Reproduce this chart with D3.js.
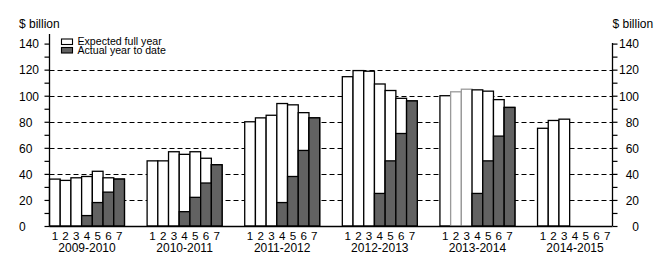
<!DOCTYPE html>
<meta charset="utf-8">
<style>

body {
  margin: 0;
  background: #fff;
}

svg text {
  font-family: "Liberation Sans", Arial, sans-serif;
  fill: #000;
}

.grid line {
  stroke: #000;
  stroke-width: 1;
  stroke-dasharray: 5,3;
}

</style>
<body>
<div id="container"></div>
<script src="https://cdnjs.cloudflare.com/ajax/libs/d3/7.8.5/d3.min.js"></script>
<script>

// financial years and month numbers
var years = ["2009-2010", "2010-2011", "2011-2012", "2012-2013", "2013-2014", "2014-2015"];
var months = [1, 2, 3, 4, 5, 6, 7];

// expected full year, $ billion (one row per year)
var expected = [
  [36, 35, 37, 38, 42, 37, 36],
  [50, 50, 57, 55, 57, 52, 47],
  [80, 83, 85, 94, 93, 87, 83],
  [114.6, 119.3, 118.8, 109, 104, 98, 96],
  [100, 103, 105, 104.5, 103.5, 97, 91],
  [75, 81, 82, null, null, null, null]
];

// actual year to date, $ billion
var actual = [
  [null, null, null, 8, 18, 26, 36],
  [null, null, null, 11, 22, 33, 47],
  [null, null, null, 18, 38, 58, 83],
  [null, null, null, 25, 50, 71, 96],
  [null, null, null, 25, 50, 69, 91],
  [null, null, null, null, null, null, null]
];

var yTicks = d3.range(0, 141, 10);
var gridTicks = [20, 40, 60, 80, 100, 120];

var width = 666, height = 276;
var plotLeft = 49.5, plotRight = 612.5, plotBottom = 226, plotTop = 43.6;

var svg = d3.select("#container")
    .append("svg")
        .attr("width", width)
        .attr("height", height);

var x = d3.scaleBand().domain(years).range([plotLeft, plotRight]).paddingInner(0.232).paddingOuter(0);
var xm = d3.scaleBand().domain(months).range([0, x.bandwidth()]).padding(0);
var y = d3.scaleLinear().domain([0, 140]).range([plotBottom, plotTop]);

function flat(table) {
  var out = [];
  years.forEach(function(yr, i) {
    months.forEach(function(m, j) {
      if (table[i][j] != null) out.push({year: yr, month: m, value: table[i][j]});
    });
  });
  return out;
}

// gridlines
svg.append("g")
    .attr("class", "grid")
  .selectAll("line")
  .data(gridTicks)
  .enter().append("line")
    .attr("x1", plotLeft)
    .attr("x2", plotRight)
    .attr("y1", function(d) { return Math.round(y(d)) + 0.5; })
    .attr("y2", function(d) { return Math.round(y(d)) + 0.5; });

// expected full year bars
svg.append("g")
  .selectAll("rect")
  .data(flat(expected))
  .enter().append("rect")
    .attr("x", function(d) { return x(d.year) + xm(d.month); })
    .attr("width", xm.bandwidth())
    .attr("y", function(d) { return y(d.value); })
    .attr("height", function(d) { return plotBottom - y(d.value); })
    .attr("fill", "#fff")
    .attr("stroke", function(d) {
      return d.year === "2013-2014" && (d.month === 2 || d.month === 3) ? "#9a9a9a" : "#000";
    })
    .attr("stroke-width", 1.3);

// actual year to date bars
svg.append("g")
  .selectAll("rect")
  .data(flat(actual))
  .enter().append("rect")
    .attr("x", function(d) { return x(d.year) + xm(d.month); })
    .attr("width", xm.bandwidth())
    .attr("y", function(d) { return y(d.value); })
    .attr("height", function(d) { return plotBottom - y(d.value); })
    .attr("fill", "#626262")
    .attr("stroke", "#000")
    .attr("stroke-width", 1.3);

// left axis
var yAxisL = d3.axisLeft(y).tickValues(yTicks).tickSize(5).tickSizeOuter(0)
    .tickFormat(function(d) { return d % 20 === 0 ? d : ""; });
var gl = svg.append("g")
    .attr("transform", "translate(" + plotLeft + ",0)")
    .call(yAxisL);
gl.select(".domain").remove();
gl.selectAll("line").attr("stroke", "#000").attr("stroke-width", 1.2);
gl.selectAll("text")
    .attr("x", 19 - plotLeft)
    .attr("text-anchor", "start")
    .attr("dy", "0.36em")
    .style("font-size", "12px");
gl.append("line")
    .attr("y1", plotBottom).attr("y2", 34)
    .attr("stroke", "#000").attr("stroke-width", 1.3);

// right axis
var yAxisR = d3.axisRight(y).tickValues(yTicks).tickSize(5).tickSizeOuter(0)
    .tickFormat(function(d) { return d % 20 === 0 ? d : ""; });
var gr = svg.append("g")
    .attr("transform", "translate(" + plotRight + ",0)")
    .call(yAxisR);
gr.select(".domain").remove();
gr.selectAll("line").attr("stroke", "#000").attr("stroke-width", 1.2);
gr.selectAll("text")
    .attr("x", 639 - plotRight)
    .attr("text-anchor", "end")
    .attr("dy", "0.36em")
    .style("font-size", "12px");
gr.append("line")
    .attr("y1", plotBottom).attr("y2", y(140) - 0.6)
    .attr("stroke", "#000").attr("stroke-width", 1.3);

// x baseline
svg.append("line")
    .attr("x1", plotLeft).attr("x2", plotRight)
    .attr("y1", plotBottom + 0.5).attr("y2", plotBottom + 0.5)
    .attr("stroke", "#000").attr("stroke-width", 1.5);

// month and year labels
var grp = svg.append("g").selectAll("g")
    .data(years)
  .enter().append("g")
    .attr("transform", function(d) { return "translate(" + x(d) + ",0)"; });

grp.selectAll("text.m")
    .data(months)
  .enter().append("text")
    .attr("class", "m")
    .attr("x", function(d) { return xm(d) + xm.bandwidth() / 2; })
    .attr("y", 240)
    .attr("text-anchor", "middle")
    .style("font-size", "11.6px")
    .text(function(d) { return d; });

grp.append("text")
    .attr("x", x.bandwidth() / 2)
    .attr("y", 251.7)
    .attr("text-anchor", "middle")
    .style("font-size", "12px")
    .text(function(d) { return d; });

// unit labels
svg.append("text").attr("x", 19).attr("y", 28).style("font-size", "12px").text("$ billion");
svg.append("text").attr("x", 612.5).attr("y", 28).style("font-size", "12px").text("$ billion");

// legend
var legend = [
  {label: "Expected full year", fill: "#fff"},
  {label: "Actual year to date", fill: "#626262"}
];
var lg = svg.append("g").selectAll("g")
    .data(legend)
  .enter().append("g")
    .attr("transform", function(d, i) { return "translate(61.5," + (39 + i * 8.5) + ")"; });
lg.append("rect")
    .attr("width", 11).attr("height", 5.5)
    .attr("fill", function(d) { return d.fill; })
    .attr("stroke", "#000").attr("stroke-width", 1.1);
lg.append("text")
    .attr("x", 16)
    .attr("y", 6.2)
    .style("font-size", "10.6px")
    .text(function(d) { return d.label; });

</script>
</body>
